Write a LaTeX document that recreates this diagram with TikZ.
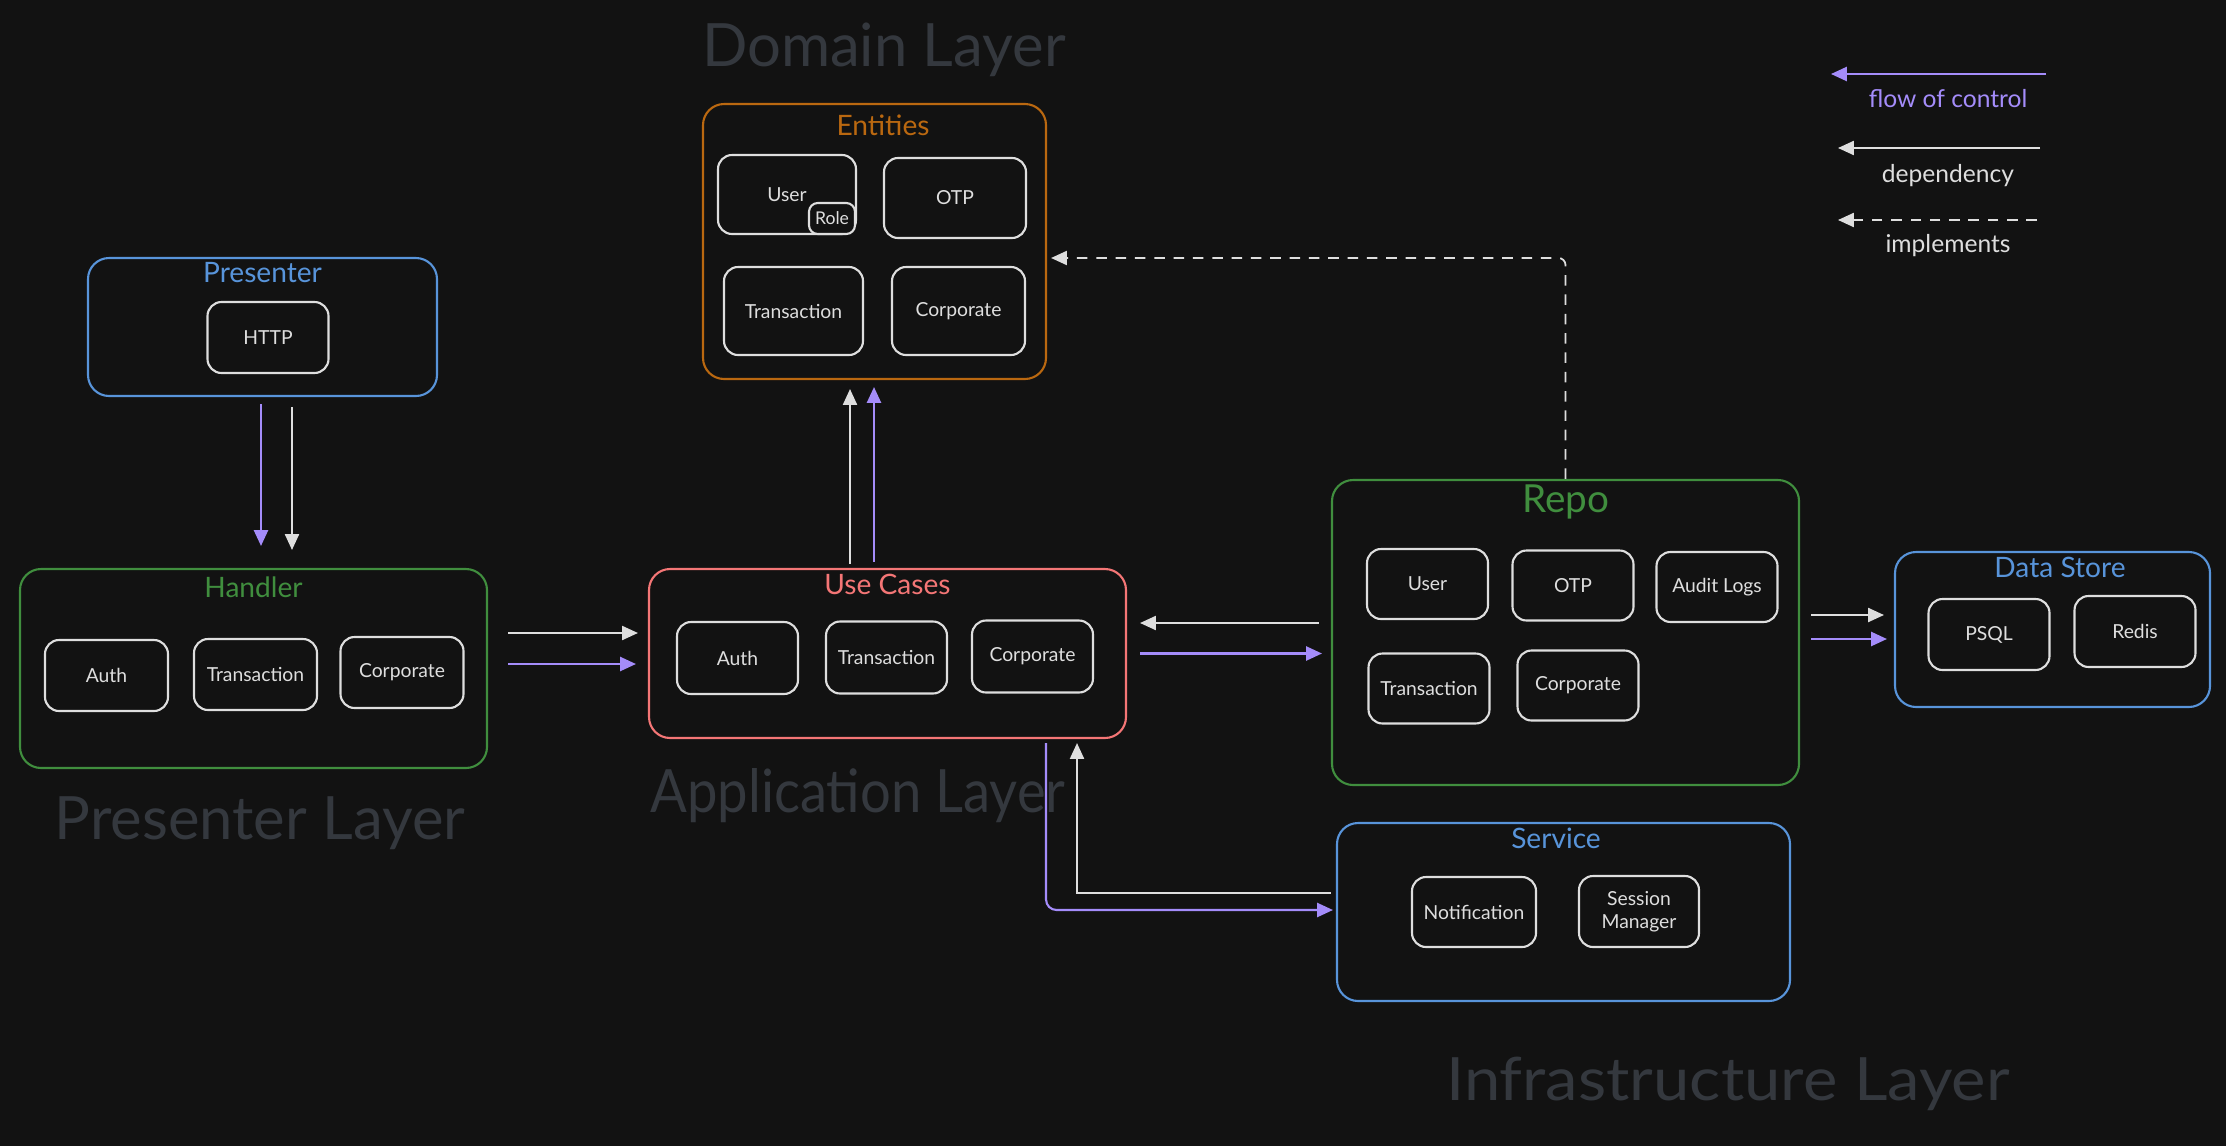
\documentclass[tikz,border=0pt]{standalone}
\usepackage{fontspec}
\setmainfont{Lato}
\usetikzlibrary{arrows.meta,positioning}
\definecolor{bgdark}{RGB}{18,18,18}
\definecolor{boxline}{RGB}{222,222,222}
\definecolor{layergray}{RGB}{52,56,62}
\definecolor{domorange}{RGB}{186,104,16}
\definecolor{prblue}{RGB}{88,148,218}
\definecolor{hdgreen}{RGB}{64,142,62}
\definecolor{ucred}{RGB}{244,118,118}
\definecolor{flowpurple}{RGB}{164,140,250}

\begin{document}
\begin{tikzpicture}[
    every node/.style={font=\fontsize{5.5}{6.5}\selectfont, text=boxline},
    layer/.style={font=\fontsize{17}{20}\selectfont, text=layergray, anchor=base},
    group/.style={draw, rounded corners=6pt, line width=0.6pt},
    item/.style={draw=boxline, rounded corners=4pt, line width=0.6pt, minimum width=1.21cm, minimum height=0.71cm, align=center},
    hdr/.style={font=\fontsize{8}{9}\selectfont},
    dep/.style={draw=boxline, line width=0.5pt, -{Triangle[length=4.5pt,width=4pt]}},
    flow/.style={draw=flowpurple, line width=0.6pt, -{Triangle[length=4.5pt,width=4pt]}},
    impl/.style={dep, dash pattern=on 3pt off 2.5pt},
]
    % background and frame
    \fill[bgdark] (0,0) rectangle (22.26,-11.46);
    \useasboundingbox (0,0) rectangle (22.26,-11.46);

    % layer captions
    \node[layer] (domain-layer) at (8.84,-0.67) {Domain Layer};
    \node[layer] (presenter-layer) at (2.60,-8.39) {Presenter Layer};
    \node[layer, xscale=0.91, transform shape] (application-layer) at (8.58,-8.12) {Application Layer};
    \node[layer, xscale=1.09, transform shape] (infra-layer) at (17.28,-11.00) {Infrastructure Layer};

    % Entities
    \node[group, draw=domorange, minimum width=3.43cm, minimum height=2.75cm] (entities) at (8.745,-2.415) {};
    \node[hdr, text=domorange] (entities-title) at ([xshift=0.085cm, yshift=-0.22cm]entities.north) {Entities};
    \node[item, minimum width=1.38cm, minimum height=0.79cm] (e-user) at (7.87,-1.945) {User};
    \node[item, minimum width=0.46cm, minimum height=0.31cm, rounded corners=2.5pt, fill=bgdark, inner sep=1pt, font=\fontsize{5}{6}\selectfont] (e-role) at (8.32,-2.185) {Role};
    \node[item, minimum width=1.42cm, minimum height=0.80cm] (e-otp) at (9.55,-1.98) {OTP};
    \node[item, minimum width=1.39cm, minimum height=0.88cm] (e-trans) at (7.935,-3.11) {Transaction};
    \node[item, minimum width=1.33cm, minimum height=0.88cm] (e-corp) at (9.585,-3.11) {Corporate};

    % Presenter
    \node[group, draw=prblue, minimum width=3.49cm, minimum height=1.38cm] (presenter) at (2.625,-3.27) {};
    \node[hdr, text=prblue] (presenter-title) at ([yshift=-0.16cm]presenter.north) {Presenter};
    \node[item] (p-http) at (2.68,-3.375) {HTTP};

    % Handler
    \node[group, draw=hdgreen, minimum width=4.67cm, minimum height=1.99cm] (handler) at (2.535,-6.685) {};
    \node[hdr, text=hdgreen] (handler-title) at ([yshift=-0.19cm]handler.north) {Handler};
    \node[item, minimum width=1.23cm] (h-auth) at (1.065,-6.755) {Auth};
    \node[item, minimum width=1.23cm] (h-trans) at (2.555,-6.745) {Transaction};
    \node[item, minimum width=1.23cm] (h-corp) at (4.02,-6.725) {Corporate};

    % Use Cases
    \node[group, draw=ucred, minimum width=4.77cm, minimum height=1.69cm] (usecases) at (8.875,-6.535) {};
    \node[hdr, text=ucred] (usecases-title) at ([yshift=-0.16cm]usecases.north) {Use Cases};
    \node[item, minimum height=0.72cm] (u-auth) at (7.375,-6.58) {Auth};
    \node[item, minimum height=0.72cm] (u-trans) at (8.865,-6.575) {Transaction};
    \node[item, minimum height=0.72cm] (u-corp) at (10.325,-6.565) {Corporate};

    % Repo
    \node[group, draw=hdgreen, minimum width=4.67cm, minimum height=3.05cm] (repo) at (15.655,-6.325) {};
    \node[hdr, text=hdgreen, font=\fontsize{11}{12}\selectfont] (repo-title) at ([yshift=-0.23cm]repo.north) {Repo};
    \node[item, minimum height=0.70cm] (r-user) at (14.275,-5.84) {User};
    \node[item, minimum height=0.70cm] (r-otp) at (15.73,-5.855) {OTP};
    \node[item, minimum height=0.70cm] (r-audit) at (17.17,-5.87) {Audit Logs};
    \node[item, minimum height=0.70cm] (r-trans) at (14.29,-6.885) {Transaction};
    \node[item, minimum height=0.70cm] (r-corp) at (15.78,-6.855) {Corporate};

    % Data Store
    \node[group, draw=prblue, minimum width=3.15cm, minimum height=1.55cm] (datastore) at (20.525,-6.295) {};
    \node[hdr, text=prblue] (datastore-title) at ([xshift=0.075cm, yshift=-0.16cm]datastore.north) {Data Store};
    \node[item] (d-psql) at (19.89,-6.345) {PSQL};
    \node[item] (d-redis) at (21.35,-6.315) {Redis};

    % Service
    \node[group, draw=prblue, minimum width=4.53cm, minimum height=1.78cm] (service) at (15.635,-9.12) {};
    \node[hdr, text=prblue] (service-title) at ([xshift=-0.075cm, yshift=-0.16cm]service.north) {Service};
    \node[item, minimum height=0.70cm] (s-notif) at (14.74,-9.12) {Notification};
    \node[item, minimum width=1.20cm] (s-session) at (16.39,-9.115) {Session\\Manager};

    % presenter -> handler
    \draw[flow, shorten <=0.07cm, shorten >=0.22cm] ([xshift=-0.015cm]presenter.south) -- ([xshift=-0.015cm]presenter.south |- handler.north);
    \draw[dep, shorten <=0.10cm, shorten >=0.18cm] ([xshift=0.295cm]presenter.south) -- ([xshift=0.295cm]presenter.south |- handler.north);

    % handler -> use cases
    \coordinate (uc-in-dep) at ([yshift=0.205cm]usecases.west);
    \coordinate (uc-in-flow) at ([yshift=-0.105cm]usecases.west);
    \draw[dep, shorten <=0.2cm, shorten >=0.1cm] (handler.east |- uc-in-dep) -- (uc-in-dep);
    \draw[flow, shorten <=0.2cm, shorten >=0.12cm] (handler.east |- uc-in-flow) -- (uc-in-flow);

    % use cases -> entities
    \draw[dep, shorten <=0.04cm, shorten >=0.09cm] ([xshift=-0.375cm]usecases.north) -- ([xshift=-0.375cm]usecases.north |- entities.south);
    \draw[flow, shorten <=0.06cm, shorten >=0.07cm] ([xshift=-0.135cm]usecases.north) -- ([xshift=-0.135cm]usecases.north |- entities.south);

    % repo <-> use cases
    \coordinate (uc-out-dep) at ([yshift=0.305cm]usecases.east);
    \draw[dep, shorten <=0.12cm, shorten >=0.13cm] (repo.west |- uc-out-dep) -- (uc-out-dep);
    \draw[flow, shorten <=0.13cm, shorten >=0.09cm] (usecases.east) -- (repo.west |- usecases.east);

    % repo -> data store
    \coordinate (ds-in-dep) at ([yshift=0.145cm]datastore.west);
    \coordinate (ds-in-flow) at ([yshift=-0.095cm]datastore.west);
    \draw[dep, shorten <=0.11cm, shorten >=0.10cm] (repo.east |- ds-in-dep) -- (ds-in-dep);
    \draw[flow, shorten <=0.11cm, shorten >=0.07cm] (repo.east |- ds-in-flow) -- (ds-in-flow);

    % use cases <-> service
    \draw[flow, rounded corners=3pt, shorten <=0.04cm, shorten >=0.03cm] ([xshift=1.585cm]usecases.south) |- ([yshift=0.02cm]service.west);
    \draw[dep, shorten <=0.05cm, shorten >=0.04cm] ([yshift=0.19cm]service.west) -| ([xshift=1.895cm]usecases.south);

    % repo implements entities
    \draw[impl, rounded corners=2pt, shorten >=0.04cm] (repo.north) |- ([yshift=-0.165cm]entities.east);

    % legend
    \node[font=\fontsize{7}{8}\selectfont, text=flowpurple] (lg-flow) at (19.48,-0.99) {flow of control};
    \node[font=\fontsize{7}{8}\selectfont] (lg-dep) at (19.48,-1.76) {dependency};
    \node[font=\fontsize{7}{8}\selectfont] (lg-impl) at (19.48,-2.46) {implements};
    \coordinate (lg-flow-a) at ([shift={(0.98,0.25)}]lg-flow.center);
    \coordinate (lg-flow-b) at ([shift={(-1.17,0.25)}]lg-flow.center);
    \coordinate (lg-dep-a) at ([shift={(0.92,0.28)}]lg-dep.center);
    \coordinate (lg-dep-b) at ([shift={(-1.10,0.28)}]lg-dep.center);
    \coordinate (lg-impl-a) at ([shift={(0.89,0.26)}]lg-impl.center);
    \coordinate (lg-impl-b) at ([shift={(-1.10,0.26)}]lg-impl.center);
    \draw[flow] (lg-flow-a) -- (lg-flow-b);
    \draw[dep] (lg-dep-a) -- (lg-dep-b);
    \draw[impl] (lg-impl-a) -- (lg-impl-b);
\end{tikzpicture}
\end{document}
